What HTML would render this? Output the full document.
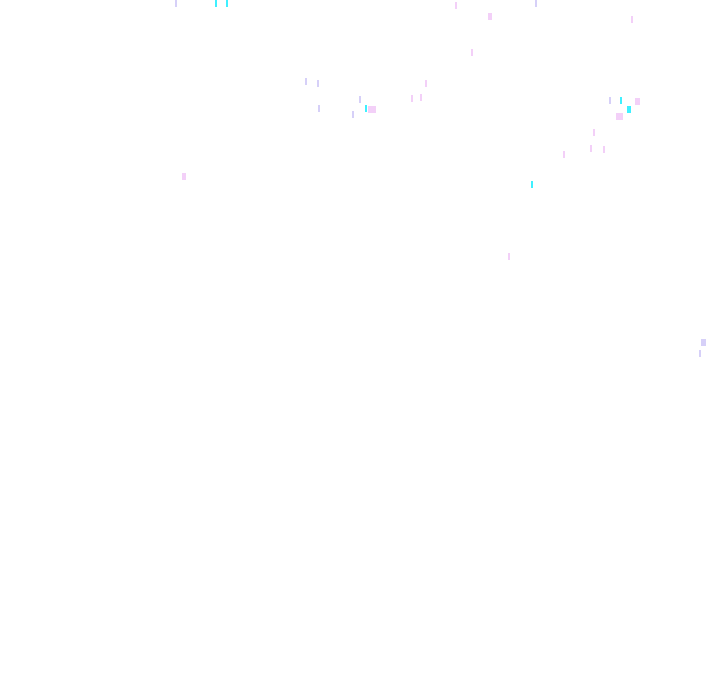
<!DOCTYPE html>
<html>
<head>
<meta charset="utf-8">
<style>
html,body{margin:0;padding:0;background:#ffffff;}
body{width:720px;height:692px;overflow:hidden;position:relative;}
i{position:absolute;display:block;width:2px;height:7px;}
.p{background:#f3d0f8;}
.l{background:#d6d0f8;}
.c{background:#3ff0ff;}
</style>
</head>
<body>
<i class="l" style="left:175px;top:0"></i>
<i class="c" style="left:215px;top:0"></i>
<i class="c" style="left:226px;top:0"></i>
<i class="p" style="left:455px;top:2px"></i>
<i class="p" style="left:488px;top:13px;width:4px"></i>
<i class="l" style="left:535px;top:0"></i>
<i class="p" style="left:631px;top:16px"></i>
<i class="p" style="left:471px;top:49px"></i>
<i class="l" style="left:305px;top:78px"></i>
<i class="l" style="left:317px;top:80px"></i>
<i class="p" style="left:425px;top:80px"></i>
<i class="p" style="left:420px;top:94px"></i>
<i class="p" style="left:411px;top:95px"></i>
<i class="l" style="left:359px;top:96px"></i>
<i class="c" style="left:365px;top:105px"></i>
<i class="p" style="left:368px;top:106px;width:8px"></i>
<i class="l" style="left:318px;top:105px"></i>
<i class="l" style="left:352px;top:111px"></i>
<i class="l" style="left:609px;top:97px"></i>
<i class="c" style="left:620px;top:97px"></i>
<i class="p" style="left:635px;top:98px;width:5px"></i>
<i class="c" style="left:627px;top:106px;width:4px"></i>
<i class="p" style="left:616px;top:113px;width:7px"></i>
<i class="p" style="left:593px;top:129px"></i>
<i class="p" style="left:590px;top:145px"></i>
<i class="p" style="left:603px;top:146px"></i>
<i class="p" style="left:563px;top:151px"></i>
<i class="c" style="left:531px;top:181px"></i>
<i class="p" style="left:182px;top:173px;width:4px"></i>
<i class="p" style="left:508px;top:253px"></i>
<i class="l" style="left:701px;top:339px;width:5px"></i>
<i class="l" style="left:699px;top:350px"></i>
</body>
</html>
